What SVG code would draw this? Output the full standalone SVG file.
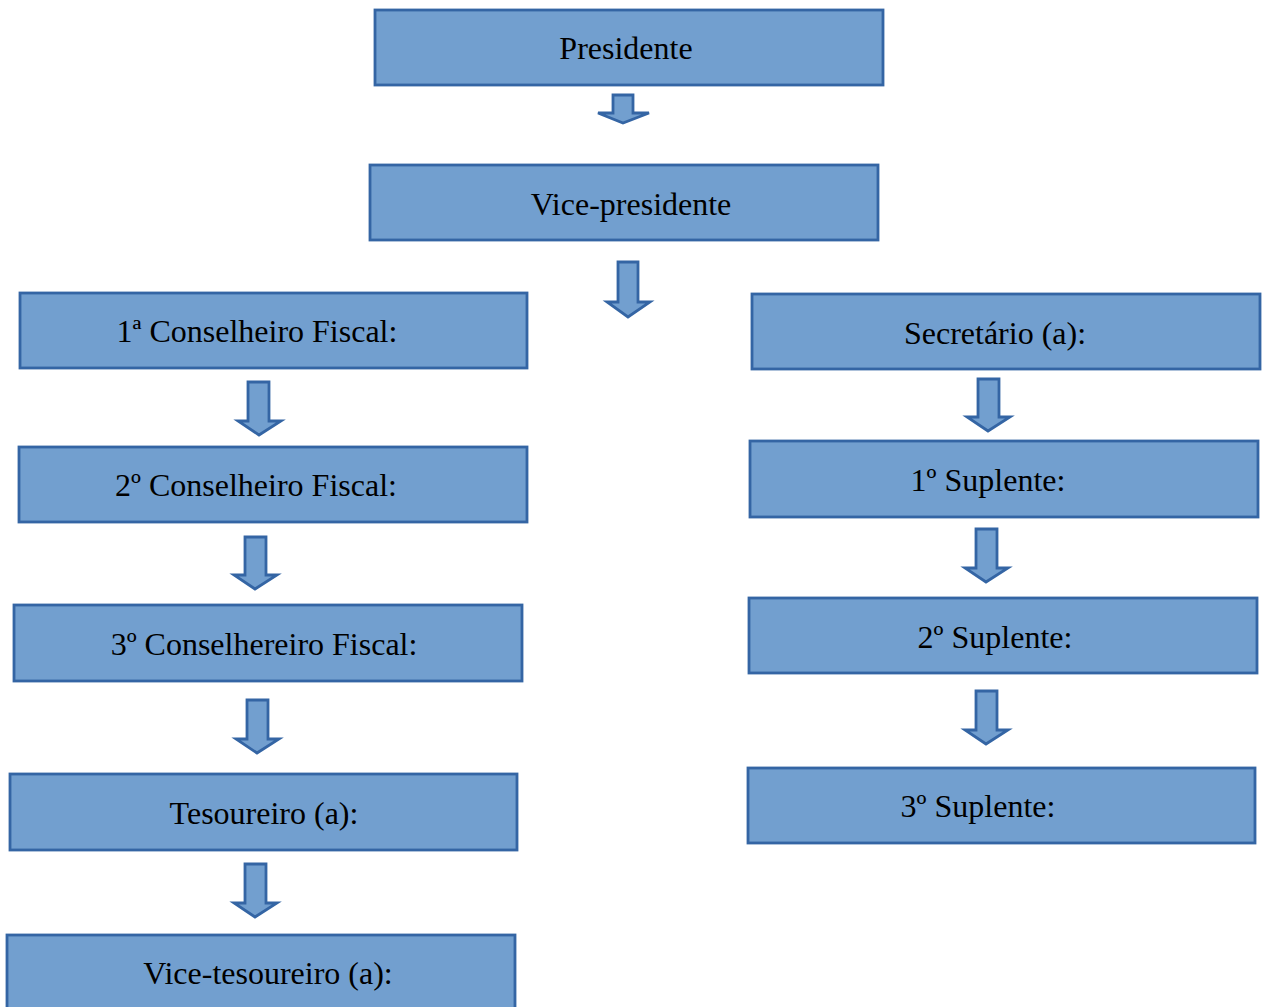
<svg xmlns="http://www.w3.org/2000/svg" width="1267" height="1007" viewBox="0 0 1267 1007">
<style>
.box{fill:#729fcf;stroke:#3465a4;stroke-width:2.8}
.arr{fill:#729fcf;stroke:#3465a4;stroke-width:2.8;stroke-linejoin:miter}
text{font-family:"Liberation Serif","Times New Roman",serif;font-size:32px;fill:#000;text-anchor:middle}
</style>
<rect width="1267" height="1007" fill="#fff"/>
<g id="n-presidente"><rect class="box" x="375" y="10" width="508" height="75"/><text x="626" y="59">Presidente</text></g>
<g id="n-vice"><rect class="box" x="370" y="165" width="508" height="75"/><text x="631" y="215">Vice-presidente</text></g>
<g id="n-cf1"><rect class="box" x="20" y="293" width="507" height="75"/><text x="257" y="342">1ª Conselheiro Fiscal:</text></g>
<g id="n-cf2"><rect class="box" x="19" y="447" width="508" height="75"/><text x="256" y="496">2º Conselheiro Fiscal:</text></g>
<g id="n-cf3"><rect class="box" x="14" y="605" width="508" height="76"/><text x="264" y="655">3º Conselhereiro Fiscal:</text></g>
<g id="n-tes"><rect class="box" x="10" y="774" width="507" height="76"/><text x="264" y="824">Tesoureiro (a):</text></g>
<g id="n-vtes"><rect class="box" x="7" y="935" width="508" height="80"/><text x="268" y="984">Vice-tesoureiro (a):</text></g>
<g id="n-sec"><rect class="box" x="752" y="294" width="508" height="75"/><text x="995" y="344">Secretário (a):</text></g>
<g id="n-s1"><rect class="box" x="750" y="441" width="508" height="76"/><text x="988" y="491">1º Suplente:</text></g>
<g id="n-s2"><rect class="box" x="749" y="598" width="508" height="75"/><text x="995" y="648">2º Suplente:</text></g>
<g id="n-s3"><rect class="box" x="748" y="768" width="507" height="75"/><text x="978" y="817">3º Suplente:</text></g>
<g id="connectors">
<path class="arr" d="M613,95 H633 V113 H649 L623,123 L598,113 H613 Z"/>
<path class="arr" d="M618,262 H638 V302 H650 L628,317 L607,302 H618 Z"/>
<path class="arr" d="M248,382 H269 V421 H281 L259,435 L238,421 H248 Z"/>
<path class="arr" d="M245,537 H266 V575 H277 L255,589 L234,575 H245 Z"/>
<path class="arr" d="M247,700 H268 V739 H279 L257,753 L236,739 H247 Z"/>
<path class="arr" d="M245,864 H266 V903 H277 L255,917 L234,903 H245 Z"/>
<path class="arr" d="M978,379 H999 V417 H1010 L988,431 L967,417 H978 Z"/>
<path class="arr" d="M976,529 H997 V568 H1008 L986,582 L965,568 H976 Z"/>
<path class="arr" d="M976,691 H997 V730 H1008 L986,744 L965,730 H976 Z"/>
</g>
</svg>
